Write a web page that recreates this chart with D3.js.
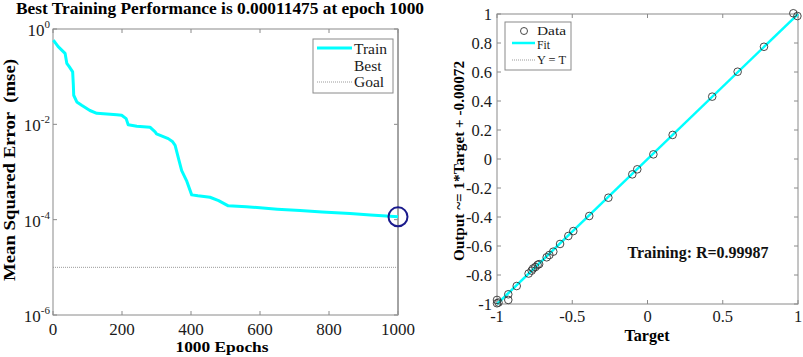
<!DOCTYPE html>
<html><head><meta charset="utf-8">
<script src="https://cdn.jsdelivr.net/npm/d3@7"></script>
<style>
body{margin:0;background:#fff;}
svg{display:block;font-family:"Liberation Serif","Times New Roman",serif;}
</style></head>
<body><svg id="c" width="803" height="357"></svg>
<script>
// ---- Data ----
const trainEpochs = [1,15,35,40,47,57,59,60,69,83,107,127,185,199,212,218,243,281,296,300,334,346,354,365,373,387,402,420,455,480,508,560,600,650,716,780,861,920,1000];
const trainLog10  = [-0.232,-0.37,-0.51,-0.72,-0.79,-0.90,-1.18,-1.39,-1.53,-1.60,-1.71,-1.77,-1.80,-1.81,-1.88,-2.01,-2.04,-2.06,-2.16,-2.20,-2.30,-2.36,-2.44,-2.75,-2.97,-3.18,-3.48,-3.50,-3.53,-3.60,-3.71,-3.73,-3.75,-3.78,-3.81,-3.84,-3.87,-3.90,-3.9403];
const trainMSE = trainLog10.map(v => Math.pow(10, v));
const bestEpoch = 1000, bestMSE = 0.00011475, goalMSE = 1e-5;
const epochTicks = [0,200,400,600,800,1000];
const logTickExps = [0,-2,-4,-6];

const targets = [0.969,0.996,0.774,0.599,0.43,0.167,0.039,-0.068,-0.101,-0.26,-0.387,-0.493,-0.526,-0.581,-0.626,-0.652,-0.67,-0.72,-0.73,-0.745,-0.76,-0.77,-0.79,-0.869,-0.925,-0.925,-1,-1,-0.99];
const outputs = [1.005,0.986,0.774,0.602,0.43,0.166,0.032,-0.071,-0.106,-0.267,-0.393,-0.497,-0.531,-0.586,-0.639,-0.662,-0.678,-0.725,-0.73,-0.745,-0.755,-0.77,-0.79,-0.876,-0.933,-0.972,-0.972,-0.995,-0.99];
const fitSlope = 1, fitOffset = -0.00072, R = "0.99987";
const regXTicks = [-1,-0.5,0,0.5,1];
const regYTicks = [-1,-0.8,-0.6,-0.4,-0.2,0,0.2,0.4,0.6,0.8,1];

const svg = d3.select("#c");
const axisCol = "#8a8a8a", textCol = "#1a1a1a", cyan = "#00ffff";

// ---- Left: performance ----
const x1 = d3.scaleLinear().domain([0,1000]).range([53,398]);
const y1 = d3.scaleLog().domain([1e-6,1]).range([315,29]);
const L = svg.append("g");
L.append("rect").attr("x",53).attr("y",29).attr("width",345).attr("height",286)
  .attr("fill","#fff").attr("stroke",axisCol).attr("stroke-width",1);
epochTicks.forEach(t=>{
  L.append("line").attr("x1",x1(t)).attr("x2",x1(t)).attr("y1",315).attr("y2",311).attr("stroke",axisCol);
  L.append("line").attr("x1",x1(t)).attr("x2",x1(t)).attr("y1",29).attr("y2",33).attr("stroke",axisCol);
  L.append("text").attr("x",x1(t)).attr("y",335).attr("text-anchor","middle")
   .attr("font-size",17).attr("fill",textCol).text(t);
});
logTickExps.forEach(e=>{
  const yy = y1(Math.pow(10,e));
  L.append("line").attr("x1",53).attr("x2",57).attr("y1",yy).attr("y2",yy).attr("stroke",axisCol);
  L.append("line").attr("x1",398).attr("x2",394).attr("y1",yy).attr("y2",yy).attr("stroke",axisCol);
  const t = L.append("text").attr("x",50).attr("y",yy+7).attr("text-anchor","end").attr("fill",textCol).attr("font-size",17);
  t.append("tspan").text("10");
  t.append("tspan").attr("dy",-8).attr("font-size",11).text(e);
});
L.append("line").attr("x1",x1(0)).attr("x2",x1(1000)).attr("y1",y1(goalMSE)).attr("y2",y1(goalMSE))
  .attr("stroke","#9a9a9a").attr("stroke-width",1).attr("stroke-dasharray","1,1");
L.append("line").attr("x1",x1(bestEpoch)).attr("x2",x1(bestEpoch)).attr("y1",29).attr("y2",315)
  .attr("stroke","#999").attr("stroke-width",1.5);
L.append("path").datum(trainEpochs.map((e,i)=>[e,trainMSE[i]]))
  .attr("d", d3.line().x(d=>x1(d[0])).y(d=>y1(d[1])))
  .attr("fill","none").attr("stroke",cyan).attr("stroke-width",3).attr("stroke-linejoin","round");
L.append("circle").attr("cx",x1(bestEpoch)).attr("cy",y1(bestMSE)).attr("r",9.5)
  .attr("fill","none").attr("stroke","#1a1a8c").attr("stroke-width",2);
// legend
L.append("rect").attr("x",313).attr("y",39).attr("width",80).attr("height",54).attr("fill","#fff").attr("stroke",axisCol);
L.append("line").attr("x1",317).attr("x2",352).attr("y1",48).attr("y2",48).attr("stroke",cyan).attr("stroke-width",3);
L.append("line").attr("x1",317).attr("x2",352).attr("y1",82).attr("y2",82).attr("stroke","#9a9a9a").attr("stroke-dasharray","1,1");
[["Train",54],["Best",71],["Goal",87]].forEach(([s,yy])=>{
  L.append("text").attr("x",354).attr("y",yy).attr("font-size",15.5).attr("fill",textCol).text(s);
});
L.append("text").attr("x",220).attr("y",14).attr("text-anchor","middle").attr("font-weight","bold")
  .attr("font-size",17).attr("textLength",408).attr("lengthAdjust","spacingAndGlyphs")
  .attr("fill","#000").text("Best Training Performance is 0.00011475 at epoch 1000");
L.append("text").attr("x",222).attr("y",352).attr("text-anchor","middle").attr("font-weight","bold")
  .attr("font-size",15.5).attr("textLength",93).attr("lengthAdjust","spacingAndGlyphs")
  .attr("fill","#000").text("1000 Epochs");
L.append("text").attr("transform","translate(15,170) rotate(-90)").attr("text-anchor","middle").attr("font-weight","bold")
  .attr("font-size",16.5).attr("textLength",222).attr("lengthAdjust","spacingAndGlyphs")
  .attr("fill","#000").attr("xml:space","preserve").text("Mean Squared Error  (mse)");

// ---- Right: regression ----
const x2 = d3.scaleLinear().domain([-1,1]).range([497,798]);
const y2 = d3.scaleLinear().domain([-1,1]).range([304,14]);
const Rg = svg.append("g");
Rg.append("rect").attr("x",497).attr("y",14).attr("width",301).attr("height",290)
  .attr("fill","#fff").attr("stroke",axisCol);
regXTicks.forEach(t=>{
  Rg.append("line").attr("x1",x2(t)).attr("x2",x2(t)).attr("y1",304).attr("y2",300).attr("stroke",axisCol);
  Rg.append("line").attr("x1",x2(t)).attr("x2",x2(t)).attr("y1",14).attr("y2",18).attr("stroke",axisCol);
  Rg.append("text").attr("x",x2(t)).attr("y",322).attr("text-anchor","middle").attr("font-size",16.5).attr("fill",textCol).text(t);
});
regYTicks.forEach(t=>{
  Rg.append("line").attr("x1",497).attr("x2",501).attr("y1",y2(t)).attr("y2",y2(t)).attr("stroke",axisCol);
  Rg.append("line").attr("x1",798).attr("x2",794).attr("y1",y2(t)).attr("y2",y2(t)).attr("stroke",axisCol);
  Rg.append("text").attr("x",492).attr("y",y2(t)+5.5).attr("text-anchor","end").attr("font-size",16.5).attr("fill",textCol).text(t);
});
Rg.append("line").attr("x1",x2(-1)).attr("x2",x2(1)).attr("y1",y2(-1)).attr("y2",y2(1))
  .attr("stroke","#9a9a9a").attr("stroke-dasharray","1,1");
Rg.append("line").attr("x1",x2(-1)).attr("x2",x2(1)).attr("y1",y2(fitSlope*-1+fitOffset)).attr("y2",y2(fitSlope*1+fitOffset))
  .attr("stroke",cyan).attr("stroke-width",2.5);
Rg.selectAll("circle.d").data(targets.map((t,i)=>[t,outputs[i]])).enter().append("circle")
  .attr("cx",d=>x2(d[0])).attr("cy",d=>y2(d[1])).attr("r",3.8)
  .attr("fill","none").attr("stroke","#333").attr("stroke-width",0.9);
// legend
Rg.append("rect").attr("x",505).attr("y",22).attr("width",66).attr("height",48).attr("fill","#fff").attr("stroke",axisCol);
Rg.append("circle").attr("cx",524).attr("cy",31).attr("r",3.5).attr("fill","none").attr("stroke","#333").attr("stroke-width",0.9);
Rg.append("line").attr("x1",512).attr("x2",535).attr("y1",43).attr("y2",43).attr("stroke",cyan).attr("stroke-width",2.5);
Rg.append("line").attr("x1",512).attr("x2",535).attr("y1",60).attr("y2",60).attr("stroke","#9a9a9a").attr("stroke-dasharray","1,1");
[["Data",34.5,29],["Fit",48.5,13],["Y = T",64,29]].forEach(([s,yy,w])=>{
  Rg.append("text").attr("x",537).attr("y",yy).attr("font-size",12)
    .attr("textLength",w).attr("lengthAdjust","spacingAndGlyphs").attr("fill",textCol).text(s);
});
Rg.append("text").attr("x",698).attr("y",258).attr("text-anchor","middle").attr("font-weight","bold")
  .attr("font-size",16).attr("textLength",141).attr("lengthAdjust","spacingAndGlyphs")
  .attr("fill","#111").text("Training: R=" + R);
Rg.append("text").attr("x",647).attr("y",341).attr("text-anchor","middle").attr("font-weight","bold")
  .attr("font-size",16.5).attr("textLength",45).attr("lengthAdjust","spacingAndGlyphs")
  .attr("fill","#000").text("Target");
Rg.append("text").attr("transform","translate(464,161) rotate(-90)").attr("text-anchor","middle").attr("font-weight","bold")
  .attr("font-size",15.5).attr("textLength",200).attr("lengthAdjust","spacingAndGlyphs")
  .attr("fill","#000").text("Output ~= 1*Target + " + fitOffset);
</script></body></html>
